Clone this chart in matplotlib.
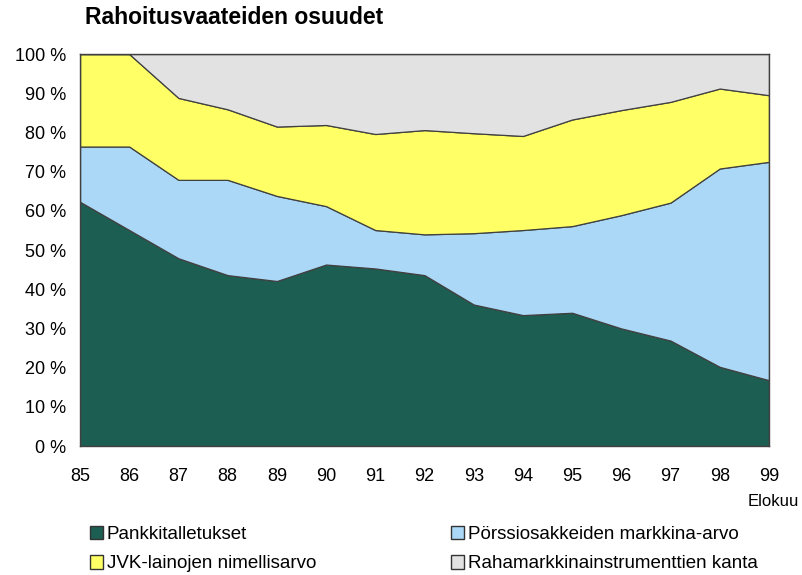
import matplotlib.pyplot as plt
from matplotlib.patches import Patch

plt.rcParams['font.family'] = ['Liberation Sans', 'DejaVu Sans']

years = [85, 86, 87, 88, 89, 90, 91, 92, 93, 94, 95, 96, 97, 98, 99]
year_labels = [str(y) for y in years]

# shares in %
pankki = [62.3, 55.1, 47.9, 43.6, 42.1, 46.3, 45.3, 43.6, 36.1, 33.4, 34.0, 30.0, 26.9, 20.2, 16.8]
porssi = [14.1, 21.3, 20.0, 24.3, 21.7, 14.9, 9.8, 10.4, 18.2, 21.7, 22.1, 28.9, 35.2, 50.6, 55.7]
jvk = [23.6, 23.6, 20.9, 18.0, 17.7, 20.7, 24.5, 26.6, 25.5, 24.0, 27.2, 26.8, 25.7, 20.4, 17.0]
raha = [0.0, 0.0, 11.2, 14.1, 18.5, 18.1, 20.4, 19.4, 20.2, 20.9, 16.7, 14.3, 12.2, 8.8, 10.5]

labels = ['Pankkitalletukset', 'JVK-lainojen nimellisarvo',
          'Pörssiosakkeiden markkina-arvo', 'Rahamarkkinainstrumenttien kanta']
colors = ['#1d5e52', '#ffff66', '#aad8f6', '#e2e2e2']

fig = plt.figure(figsize=(8.02, 5.75), dpi=100)
ax = fig.add_axes([0.0998, 0.2243, 0.859, 0.6817])

# stack order bottom->top: bank, stocks, bonds, money market
ax.stackplot(years, pankki, porssi, jvk, raha,
             colors=[colors[0], colors[2], colors[1], colors[3]],
             edgecolor='#404040', linewidth=0.9)

ax.set_xlim(85, 99)
ax.set_ylim(0, 100)
ax.set_xticks(years)
ax.set_xticklabels(year_labels, fontsize=13)
ax.set_yticks(range(0, 101, 10))
ax.set_yticklabels(['%d %%' % v for v in range(0, 101, 10)], fontsize=13)
ax.tick_params(axis='both', length=0)
ax.tick_params(axis='x', pad=15.5)
ax.tick_params(axis='y', pad=10)
for s in ax.spines.values():
    s.set_color('#404040')
    s.set_linewidth(1)

fig.text(85 / 802, 1 - 18 / 575, 'Rahoitusvaateiden osuudet', fontsize=16.5,
         fontweight='bold', ha='left', va='center')
fig.text(799 / 802, 1 - 501 / 575, 'Elokuu', fontsize=12, ha='right', va='center')

handles = [Patch(facecolor=colors[0], edgecolor='#333333', label=labels[0]),
           Patch(facecolor=colors[1], edgecolor='#333333', label=labels[1]),
           Patch(facecolor=colors[2], edgecolor='#333333', label=labels[2]),
           Patch(facecolor=colors[3], edgecolor='#333333', label=labels[3])]
fig.legend(handles=handles, ncol=2, loc='upper left',
           bbox_to_anchor=(82.5 / 802, 1 - 518 / 575), frameon=False,
           fontsize=13.5, handlelength=0.7, handleheight=0.7,
           handletextpad=0.2, columnspacing=7.2, labelspacing=0.68,
           borderaxespad=0)

fig.savefig('out.png', dpi=100)
